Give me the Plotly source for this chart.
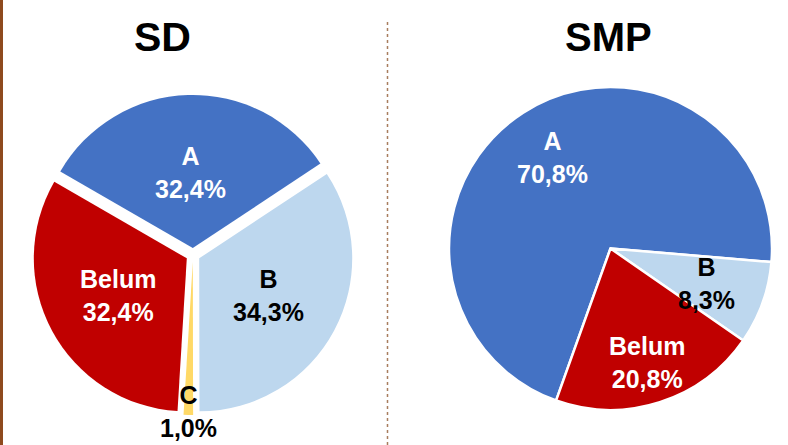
import math
import plotly.graph_objects as go

# ---- data ----
sd_labels = ["A", "B", "C", "Belum"]
sd_values = [32.4, 34.3, 1.0, 32.4]
smp_labels = ["A", "B", "Belum"]
smp_values = [70.8, 8.3, 20.8]
titles = ["SD", "SMP"]

# ---- style ----
W, H = 788, 445
color_map = {"A": "#4472C4", "B": "#BDD7EE", "C": "#FFD966", "Belum": "#C00000"}
text_color = {"A": "white", "B": "black", "C": "black", "Belum": "white"}
FONT = "Liberation Sans, Arial, sans-serif"

# pie geometry (pixels)
sd_center, sd_r, sd_pull, sd_rot = (193, 255), 153, 0.046, -60
smp_center, smp_r, smp_rot = (610.5, 248.5), 161.5, -160.3
sd_label_dist = {"A": 83, "B": 86, "C": 157, "Belum": 85}
smp_label_dist = {"A": 108, "B": 102, "Belum": 120}
title_pos = [(162.5, 37.5), (608, 37)]
title_size = [41, 40]


def domain(center, r, pull):
    half = r * (1 + pull)
    cx, cy = center
    return dict(x=[(cx - half) / W, (cx + half) / W],
                y=[1 - (cy + half) / H, 1 - (cy - half) / H])


def fmt(v):
    return f"{v:.1f}".replace(".", ",") + "%"


def label_annotations(labels, values, center, rot, dists):
    total = sum(values)
    ann = []
    cum = 0.0
    for lab, v in zip(labels, values):
        mid = math.radians(rot + (cum + v / 2) / total * 360)
        cum += v
        d = dists[lab]
        px = center[0] + d * math.sin(mid)
        py = center[1] - d * math.cos(mid)
        ann.append(dict(x=px / W, y=1 - py / H, xref="paper", yref="paper",
                        xanchor="center", yanchor="middle",
                        text=f"{lab}<br>{fmt(v)}", showarrow=False,
                        font=dict(family=FONT, size=25, color=text_color[lab], weight="bold")))
    return ann


fig = go.Figure()
fig.add_trace(go.Pie(
    labels=sd_labels, values=sd_values, sort=False, direction="clockwise",
    rotation=sd_rot, pull=[sd_pull] * len(sd_values),
    marker=dict(colors=[color_map[l] for l in sd_labels], line=dict(width=0)),
    textinfo="none", hoverinfo="label+percent", showlegend=False,
    domain=domain(sd_center, sd_r, sd_pull)))
fig.add_trace(go.Pie(
    labels=smp_labels, values=smp_values, sort=False, direction="clockwise",
    rotation=smp_rot,
    marker=dict(colors=[color_map[l] for l in smp_labels], line=dict(width=2.5, color="white")),
    textinfo="none", hoverinfo="label+percent", showlegend=False,
    domain=domain(smp_center, smp_r, 0)))

annotations = []
annotations += label_annotations(sd_labels, sd_values, sd_center, sd_rot, sd_label_dist)
annotations += label_annotations(smp_labels, smp_values, smp_center, smp_rot, smp_label_dist)
for t, (tx, ty), sz in zip(titles, title_pos, title_size):
    annotations.append(dict(x=tx / W, y=1 - ty / H, xref="paper", yref="paper", text=t,
                            xanchor="center", yanchor="middle", showarrow=False,
                            font=dict(family=FONT, size=sz, color="black", weight="bold")))

shapes = [
    dict(type="line", xref="paper", yref="paper", x0=1.5 / W, x1=1.5 / W, y0=0, y1=1,
         line=dict(color="#8E4A1E", width=3)),
    dict(type="line", xref="paper", yref="paper", x0=387.5 / W, x1=387.5 / W, y0=0, y1=1 - 20 / H,
         line=dict(color="#A87D5E", width=1.5, dash="3px,3px")),
]

fig.update_layout(width=W, height=H, margin=dict(l=0, r=0, t=0, b=0),
                  paper_bgcolor="white", plot_bgcolor="white",
                  annotations=annotations, shapes=shapes)
fig.write_html("out.html", config={"displayModeBar": False},
               post_script="document.body.style.margin='0';document.body.style.overflow='hidden';")
